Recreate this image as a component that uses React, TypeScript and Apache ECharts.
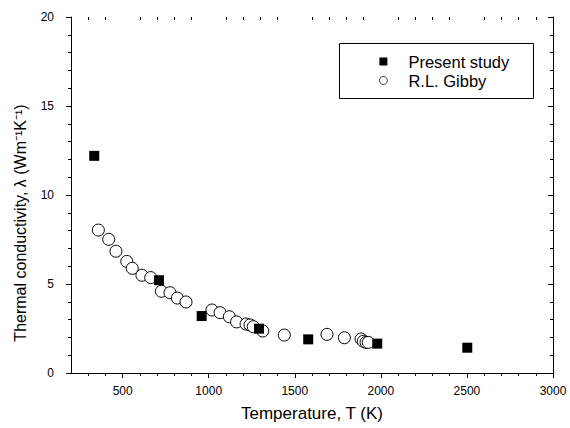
import React, { useEffect, useRef } from "react";
import * as echarts from "echarts";

const presentT = [335, 711, 959, 1292, 1578, 1979, 2502];
const presentK = [12.2, 5.21, 3.2, 2.49, 1.89, 1.65, 1.42];

const gibbyT = [359, 419, 461, 524, 556, 612, 663, 725, 775, 818, 868, 1019, 1066, 1120, 1162, 1217, 1240, 1259, 1314, 1439, 1687, 1788, 1885, 1898, 1914, 1927];
const gibbyK = [8.03, 7.51, 6.84, 6.27, 5.88, 5.49, 5.36, 4.59, 4.51, 4.21, 3.99, 3.54, 3.39, 3.16, 2.87, 2.75, 2.7, 2.6, 2.36, 2.13, 2.17, 1.98, 1.91, 1.78, 1.72, 1.72];

const xMajorTicks = [500, 1000, 1500, 2000, 2500, 3000];
const xMinorTicks = [300, 400, 600, 700, 800, 900, 1100, 1200, 1300, 1400, 1600, 1700, 1800, 1900, 2100, 2200, 2300, 2400, 2600, 2700, 2800, 2900];

const FONT = "Liberation Sans, Arial, sans-serif";

export default function App() {
  const ref = useRef<HTMLDivElement>(null);
  useEffect(() => {
    const chart = echarts.init(ref.current!, null, { renderer: "svg" });
    const black = "#000";
    const gridBox = { left: 71, right: 17, top: 17, bottom: 55 };
    const baseX = {
      type: "value",
      min: 200,
      max: 3000,
      splitLine: { show: false },
    };
    const baseY = {
      type: "value",
      min: 0,
      max: 20,
      interval: 5,
      splitLine: { show: false },
    };
    const hiddenLine = { show: true, lineStyle: { color: "rgba(0,0,0,0)", width: 1 } };
    chart.setOption({
      animation: false,
      backgroundColor: "#fff",
      grid: [gridBox, gridBox],
      xAxis: [
        {
          ...baseX,
          gridIndex: 0,
          position: "bottom",
          name: "Temperature, T (K)",
          nameLocation: "middle",
          nameGap: 32,
          nameTextStyle: { fontFamily: FONT, fontSize: 17, color: black },
          axisLine: { lineStyle: { color: black, width: 1 } },
          axisTick: { show: true, customValues: xMajorTicks, length: 5, lineStyle: { color: black } },
          axisLabel: {
            customValues: xMajorTicks,
            fontFamily: FONT,
            fontSize: 12,
            color: black,
            margin: 12,
            formatter: (v: number) => String(v),
          },
        },
        {
          ...baseX,
          gridIndex: 0,
          position: "top",
          axisLine: { lineStyle: { color: black, width: 1 } },
          axisTick: { show: true, customValues: xMajorTicks, length: 5, inside: true, lineStyle: { color: black } },
          axisLabel: { show: false },
        },
        {
          ...baseX,
          gridIndex: 1,
          position: "bottom",
          axisLine: hiddenLine,
          axisTick: { show: true, customValues: xMinorTicks, length: 3, lineStyle: { color: black } },
          axisLabel: { show: false },
        },
        {
          ...baseX,
          gridIndex: 1,
          position: "top",
          axisLine: hiddenLine,
          axisTick: { show: true, customValues: xMinorTicks, length: 3, inside: true, lineStyle: { color: black } },
          axisLabel: { show: false },
        },
      ],
      yAxis: [
        {
          ...baseY,
          gridIndex: 0,
          position: "left",
          name: "Thermal conductivity, \u03bb (Wm\u207b\u00b9K\u207b\u00b9)",
          nameLocation: "middle",
          nameGap: 43,
          nameTextStyle: { fontFamily: FONT, fontSize: 16, color: black, padding: [0, 56, 0, 0] },
          axisLine: { lineStyle: { color: black, width: 1 } },
          axisTick: { length: 5, lineStyle: { color: black } },
          minorTick: { show: true, splitNumber: 5, length: 3, lineStyle: { color: black } },
          axisLabel: { fontFamily: FONT, fontSize: 12, color: black, margin: 17 },
        },
        {
          ...baseY,
          gridIndex: 0,
          position: "right",
          axisLine: { lineStyle: { color: black, width: 1 } },
          axisTick: { length: 5, inside: true, lineStyle: { color: black } },
          minorTick: { show: true, splitNumber: 5, length: 3, lineStyle: { color: black } },
          axisLabel: { show: false },
        },
        {
          ...baseY,
          gridIndex: 1,
          position: "left",
          axisLine: { show: false },
          axisTick: { show: false },
          axisLabel: { show: false },
        },
      ],
      legend: {
        left: 379,
        top: 53,
        orient: "vertical",
        itemWidth: 8,
        itemHeight: 8,
        itemGap: 2,
        padding: 0,
        textStyle: { fontFamily: FONT, fontSize: 16.5, color: black, padding: [0, 0, 0, 16], lineHeight: 17 },
        data: [
          { name: "Present study", icon: "rect" },
          { name: "R.L. Gibby", icon: "circle", itemStyle: { borderWidth: 0.8 } },
        ],
      },
      graphic: [
        {
          type: "rect",
          shape: { x: 339.5, y: 43.5, width: 194, height: 55 },
          style: { fill: "none", stroke: black, lineWidth: 1 },
          z: 10,
        },
      ],
      series: [
        {
          name: "Present study",
          type: "scatter",
          xAxisIndex: 0,
          yAxisIndex: 0,
          symbol: "rect",
          symbolSize: 10,
          itemStyle: { color: black, opacity: 1 },
          data: presentT.map((t, i) => [t, presentK[i]]),
          z: 3,
        },
        {
          name: "R.L. Gibby",
          type: "scatter",
          xAxisIndex: 0,
          yAxisIndex: 0,
          symbol: "circle",
          symbolSize: 12,
          itemStyle: { color: "#fff", borderColor: black, borderWidth: 1, opacity: 1 },
          data: gibbyT.map((t, i) => [t, gibbyK[i]]),
          z: 2,
        },
      ],
    });
    return () => chart.dispose();
  }, []);
  return (
    <div
      ref={ref}
      style={{ position: "fixed", left: 0, top: 0, width: 570, height: 428 }}
    />
  );
}
